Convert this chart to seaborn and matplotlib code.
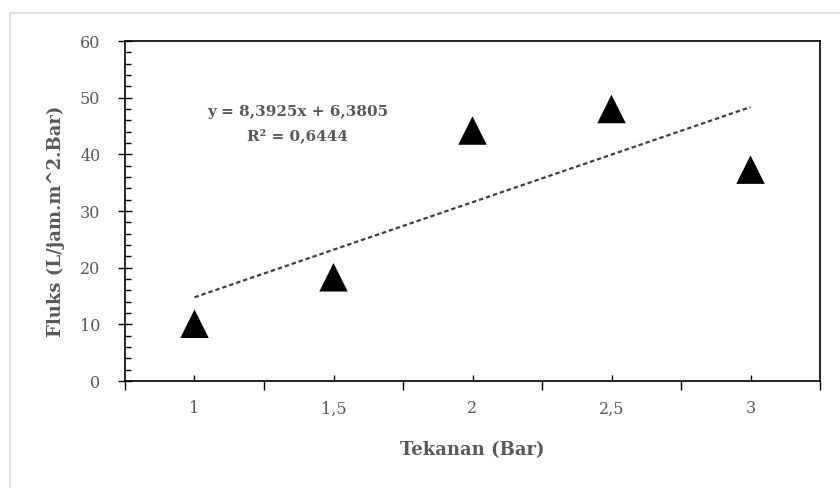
import numpy as np
import pandas as pd
import matplotlib
matplotlib.use("Agg")
import matplotlib.pyplot as plt
import seaborn as sns
from matplotlib.ticker import MultipleLocator, FixedLocator
from matplotlib.patches import Rectangle

# data
tekanan = [1, 1.5, 2, 2.5, 3]
fluks = [10.1, 18.3, 44.2, 48.0, 37.3]
x_tick_labels = ["1", "1,5", "2", "2,5", "3"]

# excel trendline (x = point number 1..5)
trend_slope = 8.3925
trend_intercept = 6.3805
eq_text = "y = 8,3925x + 6,3805\nR² = 0,6444"

df = pd.DataFrame({"Tekanan": tekanan, "Fluks": fluks})
df["urutan"] = np.arange(1, len(df) + 1)
df["trend"] = trend_slope * df["urutan"] + trend_intercept

sns.set_style("white")
plt.rcParams["font.family"] = ["DejaVu Serif"]

grey = "#595959"

fig = plt.figure(figsize=(8.4, 4.88), dpi=100)
ax = fig.add_axes([125 / 840, 107 / 488, 695 / 840, 340 / 488])

# trendline + points
sns.lineplot(data=df, x="Tekanan", y="trend", ax=ax, color="#404040",
             linewidth=1.6, linestyle=(0, (2, 1.3)))
sns.scatterplot(data=df, x="Tekanan", y="Fluks", ax=ax, marker="^", s=420,
                color="black", edgecolor="none", zorder=3)

ax.set_xlim(0.75, 3.25)
ax.set_ylim(0, 60)

# x axis: labels at the points, outward ticks in between
ax.xaxis.set_major_locator(FixedLocator(tekanan))
ax.set_xticklabels(x_tick_labels)
ax.xaxis.set_minor_locator(FixedLocator(np.arange(0.75, 3.3, 0.5)))
ax.tick_params(axis="x", which="major", bottom=True, direction="in", length=4.5, width=1,
               color="black", labelcolor=grey, labelsize=11.5, pad=14)
ax.tick_params(axis="x", which="minor", bottom=True, direction="out", length=6.5, width=1,
               color="black")

# y axis
ax.yaxis.set_major_locator(MultipleLocator(10))
ax.yaxis.set_minor_locator(MultipleLocator(2))
ax.tick_params(axis="y", which="major", left=True, direction="inout", length=9.5, width=1,
               color="black", labelcolor=grey, labelsize=11.5, pad=13)
ax.tick_params(axis="y", which="minor", left=True, direction="in", length=4.5, width=1,
               color="black")

for s in ax.spines.values():
    s.set_visible(True)
    s.set_color("black")
    s.set_linewidth(1.2)

ax.set_xlabel("Tekanan (Bar)", fontsize=13, fontweight="bold", color=grey)
ax.xaxis.set_label_coords(0.5, -0.178)
ax.set_ylabel("Fluks (L/jam.m^2.Bar)", fontsize=13, fontweight="bold", color=grey)
ax.yaxis.set_label_coords(-0.086, 0.47)

ax.text(0.248, 0.755, eq_text, transform=ax.transAxes, ha="center", va="center",
        fontsize=11, fontweight="bold", color=grey, linespacing=1.75)

# light chart-area border (left/top visible)
fig.patches.append(Rectangle((10 / 840, -0.1), 1.0, 1.1 - 13 / 488, transform=fig.transFigure,
                             fill=False, edgecolor="#d9d9d9", linewidth=1.2))

fig.savefig("out.png", dpi=100)
